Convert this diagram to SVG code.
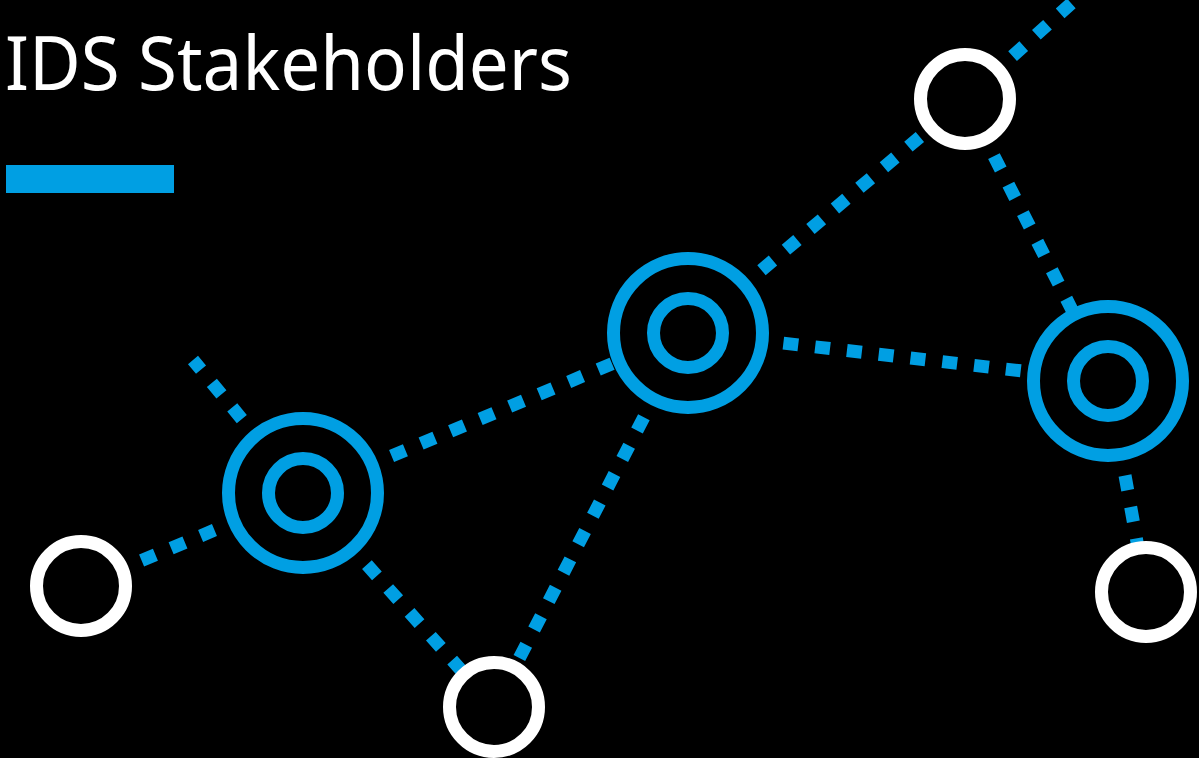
<svg xmlns="http://www.w3.org/2000/svg" width="1199" height="758" viewBox="0 0 1199 758">
  <style>
    .link { stroke: #009fe3; stroke-width: 13; stroke-dasharray: 15 17; fill: none; }
    .hub { fill: #000; stroke: #009fe3; stroke-width: 13; }
    .leaf { fill: #000; stroke: #fff; stroke-width: 13; }
    .title { font-family: "Noto Sans", "Open Sans", sans-serif; font-size: 74px; fill: #fff; }
  </style>
  <rect width="1199" height="758" fill="#000"/>

  <g id="heading">
    <text class="title" x="5" y="90" textLength="567" lengthAdjust="spacingAndGlyphs">IDS Stakeholders</text>
    <rect x="6" y="165" width="168" height="28" fill="#009fe3"/>
  </g>

  <g id="connectors">
    <line class="link" x1="303" y1="493" x2="193" y2="360"/>
    <line class="link" x1="303" y1="493" x2="81" y2="586"/>
    <line class="link" x1="303" y1="493" x2="494" y2="707"/>
    <line class="link" x1="303" y1="493" x2="688" y2="332"/>
    <line class="link" x1="688" y1="332" x2="494" y2="707"/>
    <line class="link" x1="688" y1="332" x2="965" y2="99"/>
    <line class="link" x1="965" y1="99" x2="1075" y2="0"/>
    <line class="link" x1="965" y1="99" x2="1108" y2="381"/>
    <line class="link" x1="688" y1="332" x2="1108" y2="381"/>
    <line class="link" x1="1108" y1="381" x2="1146" y2="592"/>
  </g>

  <g id="hub-a">
    <circle class="hub" cx="303" cy="493" r="74.5"/>
    <circle class="hub" cx="303" cy="493" r="34.5"/>
  </g>
  <g id="hub-b">
    <circle class="hub" cx="688" cy="333" r="74.5"/>
    <circle class="hub" cx="688" cy="333" r="34.5"/>
  </g>
  <g id="hub-c">
    <circle class="hub" cx="1108" cy="381" r="74.5"/>
    <circle class="hub" cx="1108" cy="381" r="34.5"/>
  </g>

  <g id="leaf-1"><circle class="leaf" cx="81" cy="586" r="44.5"/></g>
  <g id="leaf-2"><circle class="leaf" cx="494" cy="707" r="44.5"/></g>
  <g id="leaf-3"><circle class="leaf" cx="965" cy="99" r="44.5"/></g>
  <g id="leaf-4"><circle class="leaf" cx="1146" cy="592" r="44.5"/></g>
</svg>
